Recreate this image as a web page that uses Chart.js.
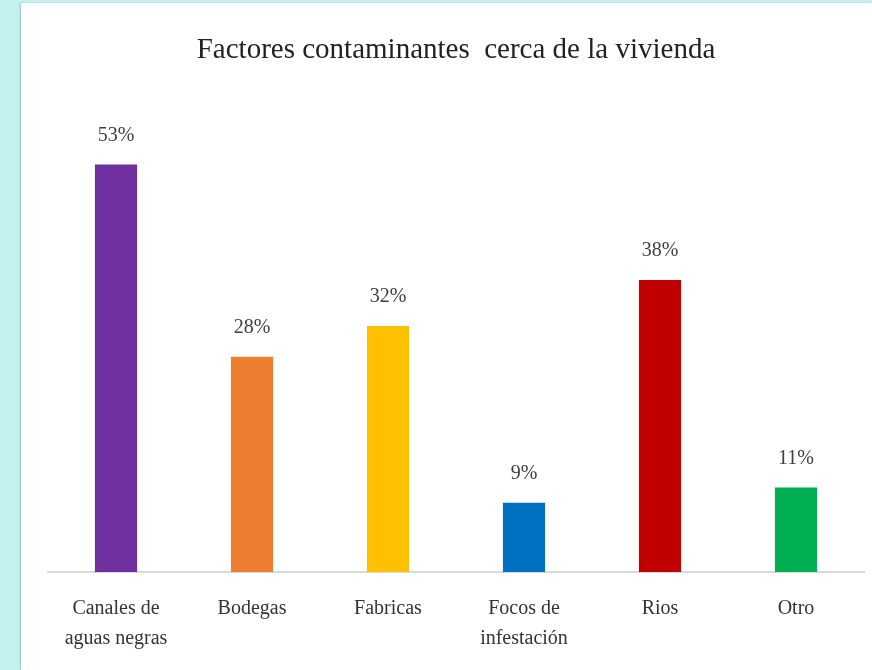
<!DOCTYPE html>
<html>
<head>
<meta charset="utf-8">
<script src="https://cdn.jsdelivr.net/npm/chart.js@4"></script>
<style>
  html, body { margin: 0; padding: 0; }
  body { width: 872px; height: 670px; background: #c2f3ee; overflow: hidden; position: relative; }
  #panel { position: absolute; left: 21px; top: 3px; width: 851px; height: 667px; background: #fff;
           box-shadow: -1px 0 2px rgba(0,0,0,0.15), 0 1px 2px rgba(0,0,0,0.1); }
  #chartFactores { display: block; }
</style>
</head>
<body>
<div id="panel"><canvas id="chartFactores" width="851" height="667"></canvas></div>
<script>
const categorias = [['Canales de', 'aguas negras'], 'Bodegas', 'Fabricas', ['Focos de', 'infestación'], 'Rios', 'Otro'];
const porcentajes = [53, 28, 32, 9, 38, 11];
const colores = ['#7030a0', '#ed7d31', '#ffc000', '#0070c0', '#c00000', '#00b050'];

// etiquetas de valor encima de cada barra
const etiquetasValor = {
  id: 'etiquetasValor',
  afterDatasetsDraw(chart) {
    const ctx = chart.ctx;
    const meta = chart.getDatasetMeta(0);
    ctx.save();
    ctx.font = '20px "Liberation Serif", serif';
    ctx.fillStyle = '#404040';
    ctx.textAlign = 'center';
    ctx.textBaseline = 'bottom';
    meta.data.forEach((bar, i) => {
      ctx.fillText(porcentajes[i] + '%', bar.x, bar.y - 19);
    });
    ctx.restore();
  }
};

function initChart() {
  const ctx = document.getElementById('chartFactores').getContext('2d');
  new Chart(ctx, {
    type: 'bar',
    data: {
      labels: categorias,
      datasets: [{
        data: porcentajes,
        backgroundColor: colores,
        borderWidth: 0,
        barPercentage: 0.62,
        categoryPercentage: 0.5
      }]
    },
    options: {
      responsive: false,
      animation: false,
      layout: { padding: { left: 27, right: 8, top: 0, bottom: 2 } },
      plugins: {
        legend: { display: false },
        tooltip: { enabled: false },
        title: {
          display: true,
          text: 'Factores contaminantes  cerca de la vivienda',
          color: '#222',
          font: { family: '"Liberation Serif", serif', size: 29, weight: 'normal' },
          padding: { top: 30, bottom: 43 }
        }
      },
      scales: {
        x: {
          grid: { display: false },
          border: { display: true, color: '#d9d9d9', width: 2 },
          ticks: {
            color: '#333',
            font: { family: '"Liberation Serif", serif', size: 20, lineHeight: 1.5 },
            padding: 14,
            maxRotation: 0
          }
        },
        y: {
          display: false,
          min: 0,
          max: 60
        }
      }
    },
    plugins: [etiquetasValor]
  });
}

initChart();
</script>
</body>
</html>
